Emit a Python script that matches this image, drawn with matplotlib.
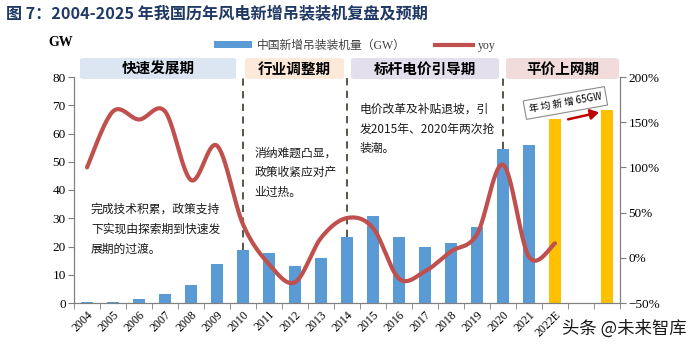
import numpy as np
import matplotlib
matplotlib.use("Agg")
import matplotlib.pyplot as plt
from matplotlib.patches import FancyBboxPatch, Rectangle
from matplotlib.lines import Line2D
from matplotlib.ticker import FixedLocator, PercentFormatter

# ---------------- data ----------------
years = ["2004", "2005", "2006", "2007", "2008", "2009", "2010", "2011", "2012",
         "2013", "2014", "2015", "2016", "2017", "2018", "2019", "2020", "2021",
         "2022E", "", ""]
installed = [0.5, 0.5, 1.3, 3.3, 6.2, 13.8, 18.9, 17.6, 13.0, 16.1, 23.2,
             30.8, 23.4, 19.7, 21.1, 26.8, 54.4, 55.9, 65.0, np.nan, 68.2]
forecast = [False] * 18 + [True, True, True]
yoy = [100, 162, 153, 162, 86, 124, 37, -7, -27, 22, 44, 33, -23, -15, 7, 26,
       103, 1, 16]
phases = ["快速发展期", "行业调整期", "标杆电价引导期", "平价上网期"]
phase_colors = ["#dce6f2", "#fde9d9", "#e4dfec", "#f2dcdb"]
divider_idx = [6, 10, 16]

CJK = ["Noto Sans CJK SC", "DejaVu Sans"]
SERIF_CJK = ["Liberation Serif", "Noto Sans CJK SC"]

W, H = 700, 349
fig = plt.figure(figsize=(W / 100, H / 100), dpi=100)

def fx(px):
    return px / W

def fy(py):
    return 1 - py / H

ax = fig.add_axes([fx(74), fy(303), fx(620) - fx(74), fy(77) - fy(303)])
ax2 = ax.twinx()

x = np.arange(len(years))
colors = ["#ffc000" if f else "#5b9bd5" for f in forecast]
ax.bar(x, installed, width=0.44, color=colors, zorder=2)
ax.set_xlim(-0.5, len(years) - 0.5)
ax.set_ylim(0, 80)
ax.set_yticks(np.arange(0, 81, 10))
ax.set_xticks(x)
ax.set_xticklabels(years, rotation=45, ha="right", rotation_mode="anchor",
                   fontfamily="Liberation Serif", fontsize=8.5)
ax.tick_params(axis="x", length=0, pad=4)
ax.xaxis.set_minor_locator(FixedLocator(np.arange(-0.5, len(years), 1)))
ax.tick_params(axis="x", which="minor", length=4, color="#7f7f7f")
for lab in ax.get_yticklabels():
    lab.set_fontfamily("Liberation Serif")
    lab.set_fontsize(9.5)
ax.tick_params(axis="y", length=4, color="#7f7f7f", pad=2)

# smoothed yoy line (Catmull-Rom through the points)
def catmull(xs, ys, n=30):
    xs = np.asarray(xs, float)
    ys = np.asarray(ys, float)
    P = np.column_stack([xs, ys])
    P = np.vstack([P[0], P, P[-1]])
    out = []
    for i in range(1, len(P) - 2):
        p0, p1, p2, p3 = P[i - 1], P[i], P[i + 1], P[i + 2]
        t = np.linspace(0, 1, n)[:, None]
        seg = 0.5 * ((2 * p1) + (-p0 + p2) * t + (2 * p0 - 5 * p1 + 4 * p2 - p3) * t ** 2
                     + (-p0 + 3 * p1 - 3 * p2 + p3) * t ** 3)
        out.append(seg)
    return np.vstack(out)

curve = catmull(np.arange(len(yoy)), yoy)
ax2.plot(curve[:, 0], curve[:, 1], color="#c0504d", lw=3, zorder=3,
         solid_capstyle="round")
ax2.set_ylim(-50, 200)
ax2.set_yticks(np.arange(-50, 201, 50))
ax2.yaxis.set_major_formatter(PercentFormatter(decimals=0))
for lab in ax2.get_yticklabels():
    lab.set_fontfamily("Liberation Serif")
    lab.set_fontsize(9.5)
ax2.tick_params(axis="y", length=4, color="#7f7f7f", pad=2)

for a in (ax, ax2):
    a.spines["top"].set_visible(False)
    for s in ("left", "right", "bottom"):
        a.spines[s].set_color("#7f7f7f")
ax.set_zorder(ax2.get_zorder() - 1)
ax.patch.set_visible(False)

# dividers
for i in divider_idx:
    ax.plot([i, i], [installed[i], 80], ls=(0, (4, 3)), color="#4a4a3a", lw=1.3,
            zorder=1, clip_on=False)

# phase boxes
box_px = [(80, 236), (245, 344), (351, 499), (506, 619)]
for (x0, x1), name, c in zip(box_px, phases, phase_colors):
    fig.patches.append(FancyBboxPatch((fx(x0), fy(79)), fx(x1 - x0), fy(58) - fy(79),
                                      boxstyle="round,pad=0,rounding_size=0.006",
                                      transform=fig.transFigure, fc=c, ec="none"))
    fig.text(fx((x0 + x1) / 2), fy(68.5), name, ha="center", va="center",
             fontfamily=CJK, fontsize=10.5, fontweight="bold")

# annotations
note_kw = dict(fontfamily=CJK, fontsize=8.5, va="top", ha="left",
               linespacing=1.7, color="#1a1a1a")
ax.text(0.15, 35.5, "完成技术积累，政策支持\n下实现由探索期到快速发\n展期的过渡。", **note_kw)
ax.text(6.45, 55.5, "消纳难题凸显，\n政策收紧应对产\n业过热。", **note_kw)
ax.text(10.5, 71, "电价改革及补贴退坡，引\n发2015年、2020年两次抢\n装潮。", **note_kw)

ax.text(18.4, 70.8, "年 均 新 增 65GW", fontfamily=CJK, fontsize=7, rotation=10,
        ha="center", va="center", zorder=5,
        bbox=dict(boxstyle="square,pad=0.45", fc="white", ec="#8c8c8c", lw=0.8))
ax.annotate("", xy=(19.8, 67.7), xytext=(18.4, 64.8),
            arrowprops=dict(arrowstyle="-|>,head_length=0.5,head_width=0.3",
                            color="#c00000", lw=1.8), zorder=5)

# title, unit, legend
fig.text(fx(6), fy(14), "图 7：2004-2025 年我国历年风电新增吊装装机复盘及预期", fontfamily=CJK,
         fontsize=11.6, fontweight="bold", color="#1f3864", va="center")
fig.text(fx(48), fy(42), "GW", fontfamily="Liberation Serif", fontsize=10,
         fontweight="bold", va="center")
handles = [Rectangle((0, 0), 1, 1, fc="#5b9bd5"),
           Line2D([], [], color="#c0504d", lw=3)]
leg = fig.legend(handles, ["中国新增吊装装机量（GW）", "yoy"], loc="center",
                 bbox_to_anchor=(fx(355), fy(46)), ncol=2, frameon=False,
                 prop={"family": SERIF_CJK, "size": 8.5}, handlelength=3.2,
                 handleheight=0.5, columnspacing=2.5, handletextpad=0.4)
for t in leg.get_texts():
    t.set_color("#404040")

fig.text(fx(562), fy(329), "头条 @未来智库", fontfamily=CJK, fontsize=12.5,
         va="center", color="#1a1a1a")

fig.savefig("out.png", dpi=100)
